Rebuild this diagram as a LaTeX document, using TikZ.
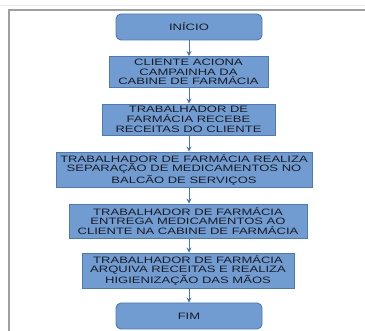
\documentclass[tikz,border=0pt]{standalone}
\usepackage{fontspec}
\setmainfont{Liberation Sans}[FakeStretch=1.4]
\usetikzlibrary{arrows.meta}
\definecolor{boxfill}{RGB}{113,156,210}
\definecolor{boxline}{RGB}{76,122,184}
\definecolor{arrline}{RGB}{74,118,182}
\definecolor{txt}{RGB}{28,28,32}
\tikzset{
  stepbox/.style={draw=boxline, line width=0.9pt, fill=boxfill, text=txt,
    align=center, inner sep=0pt, font=\fontsize{9.3}{9.8}\selectfont},
  endbox/.style={stepbox, rounded corners=5pt},
  flow/.style={draw=arrline, line width=0.9pt, -{Stealth[length=5pt,width=5pt]}}
}
\begin{document}
\begin{tikzpicture}[x=1pt,y=-1pt]
  \useasboundingbox (0,0) rectangle (365,331);
  % frame
  \draw[gray!15, line width=0.8pt] (0,5) -- (365,5);
  \draw[gray!75, line width=1.5pt] (9,331) -- (9,10) -- (365,10);
  % start and end
  \node[endbox, minimum width=146pt, minimum height=26pt] (inicio) at (189,27) {INÍCIO};
  \node[endbox, minimum width=146pt, minimum height=26pt] (fim) at (189,316) {FIM};
  % steps
  \node[stepbox, minimum width=159pt, minimum height=31pt] (aciona) at (188.5,72)
    {CLIENTE ACIONA\\CAMPAINHA DA\\CABINE DE FARMÁCIA};
  \node[stepbox, minimum width=173pt, minimum height=31pt] (recebe) at (188.5,119.5)
    {TRABALHADOR DE\\FARMÁCIA RECEBE\\RECEITAS DO CLIENTE};
  \node[stepbox, minimum width=256pt, minimum height=35pt] (separa) at (184,169.5)
    {TRABALHADOR DE FARMÁCIA REALIZA\\SEPARAÇÃO DE MEDICAMENTOS NO\\BALCÃO DE SERVIÇOS};
  \node[stepbox, minimum width=238pt, minimum height=34pt] (entrega) at (188,221)
    {TRABALHADOR DE FARMÁCIA\\ENTREGA MEDICAMENTOS AO\\CLIENTE NA CABINE DE FARMÁCIA};
  \node[stepbox, minimum width=212pt, minimum height=35pt] (arquiva) at (188,270.5)
    {TRABALHADOR DE FARMÁCIA\\ARQUIVA RECEITAS E REALIZA\\HIGIENIZAÇÃO DAS MÃOS};
  % arrows
  \draw[flow] (inicio.south) -- (inicio.south |- aciona.north);
  \draw[flow] (aciona.south -| inicio) -- (inicio |- recebe.north);
  \draw[flow] (recebe.south -| inicio) -- (inicio |- separa.north);
  \draw[flow] (separa.south -| inicio) -- (inicio |- entrega.north);
  \draw[flow] (entrega.south -| inicio) -- (inicio |- arquiva.north);
  \draw[flow] (arquiva.south -| inicio) -- (fim.north);
\end{tikzpicture}
\end{document}
